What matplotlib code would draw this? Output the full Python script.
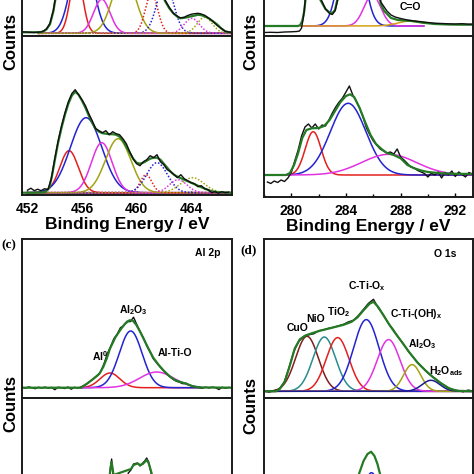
import matplotlib.pyplot as plt
import numpy as np
from matplotlib.ticker import MultipleLocator

plt.rcParams['font.family'] = ['Liberation Sans', 'DejaVu Sans']
plt.rcParams['font.weight'] = 'bold'
plt.rcParams['mathtext.fontset'] = 'custom'
plt.rcParams['mathtext.rm'] = 'Liberation Sans:bold'
plt.rcParams['mathtext.bf'] = 'Liberation Sans:bold'
plt.rcParams['mathtext.it'] = 'Liberation Sans:bold'
plt.rcParams['mathtext.default'] = 'bf'

# ---------------- (a) Ti 2p ----------------
a_top_energy = [451.6, 452.5, 453.0, 453.2, 453.4, 453.65, 453.9, 454.1, 454.5, 455.5,
                457.0, 459.0, 460.5, 461.5, 462.1, 462.4, 462.7, 463.0, 463.2, 463.5,
                463.7, 464.0, 464.2, 464.5, 464.7, 465.0, 465.3, 465.6, 465.9, 466.2,
                466.5, 466.8, 467.0]
a_top_fit = [1, 1, 1.2, 2, 4, 9, 22, 38, 85, 150,
             140, 120, 80, 50, 32, 25, 20, 16.5, 15, 15.5,
             16, 17, 17.5, 18.5, 18.3, 17, 15, 12, 9, 5,
             2, 1, 1]
a_top_raw = [1.5, 0.8, 1.4, 2.5, 4.5, 10, 23, 40, 88, 152,
             142, 122, 82, 52, 33, 26, 20, 17, 15.5, 16,
             17.5, 19, 19.5, 20, 19.5, 18, 15, 12, 8, 5,
             2, 1.2, 1]
a_top_centers = [455.6, 456.0, 457.45, 459.08, 461.1, 462.1, 464.05, 465.0]
a_top_heights = [60, 90, 34, 60, 40, 50, 15, 16]
a_top_sigmas = [0.45, 0.75, 0.6, 0.82, 0.45, 0.6, 0.55, 0.55]

a_bot_raw_energy = np.arange(452.0, 467.0, 0.25)
a_bot_raw = [2.5, 4.5, 2.0, 3.5, 2.0, 4.0, 3.0, 14,
             34, 52, 67, 80, 91, 99, 103, 98,
             93, 87, 79, 72, 64, 62, 60, 62,
             58, 61, 59, 58, 54, 49, 41, 34,
             29, 27, 31, 33, 37, 35, 38, 31,
             28, 23, 21, 18, 15, 18, 14, 12,
             10, 9, 6, 7, 4, 3, 0, 1,
             -0.5, 1, 0, 0.5]
a_bot_fit_energy = [451.6, 452.5, 453.3, 453.6, 453.8, 454.0, 454.25, 454.5, 454.75, 455.0,
                    455.25, 455.5, 455.75, 456.0, 456.25, 456.5, 456.75, 457.0, 457.25, 457.5,
                    457.75, 458.0, 458.25, 458.5, 458.75, 459.0, 459.25, 459.5, 459.75, 460.0,
                    460.25, 460.5, 460.75, 461.0, 461.25, 461.5, 461.75, 462.0, 462.25, 462.5,
                    462.75, 463.0, 463.5, 464.0, 464.5, 465.0, 465.5, 466.0, 467.0]
a_bot_fit = [0, 0, 0.5, 5, 17, 32, 50, 65, 78, 89,
             97, 101, 98, 92, 85, 77, 70, 64, 61, 59.5,
             59, 58.5, 58.5, 58, 56, 52, 46, 40, 34, 30,
             29, 30, 32, 34, 35, 35, 33, 29, 25, 21,
             18, 16, 13, 10, 7, 4, 1.5, 0.5, 0]
a_bot_centers = [455.05, 456.3, 457.45, 458.65, 460.7, 461.5, 463.05, 464.1]
a_bot_heights = [42, 75, 50, 54, 18, 30, 13, 15]
a_bot_sigmas = [0.68, 1.15, 0.76, 0.93, 0.42, 0.76, 0.64, 0.85]
a_bot_bg_energy = [452.0, 467.0]
a_bot_bg = [0, 0]

# ---------------- (b) C 1s ----------------
b_top_raw_energy = [278.0, 278.5, 279.0, 279.5, 280.0, 280.4, 280.6, 280.75, 280.9, 281.05,
                    281.3, 281.7, 282.0, 282.13, 282.5, 282.8, 283.0, 283.2, 283.4, 283.7,
                    284.5, 285.5, 286.3, 286.55, 286.8, 287.0, 287.3, 287.6, 288.0, 288.5,
                    289.0, 289.5, 290.0, 290.5, 291.0, 291.5, 292.0, 292.5, 293.0, 293.4]
b_top_raw = [-6.5, -6.3, -6.5, -6, -5.8, -5.5, -5, -2, 10, 30,
             70, 80, 40, 28, 17, 12.5, 11.5, 15, 26, 60,
             120, 110, 45, 24, 19, 15, 11, 9, 7.5, 6,
             5, 4.3, 3.5, 2.8, 2.5, 2.2, 2, 2.3, 1.8, 2]
b_top_fit_energy = [278.0, 280.5, 280.65, 280.8, 280.95, 281.1, 281.3, 281.7, 282.0, 282.13,
                    282.5, 282.8, 283.0, 283.2, 283.36, 283.7, 284.5, 285.5, 286.3, 286.55,
                    286.8, 287.3, 287.8, 288.3, 288.8, 289.3, 289.8, 290.5, 291.5, 292.5,
                    293.4]
b_top_fit = [0, 0, 1, 5, 15, 35, 60, 75, 38, 26,
             17, 13.5, 13, 16, 26, 58, 118, 108, 42, 22,
             15, 8, 6, 5.5, 5, 4, 3, 2, 1.5, 1.3,
             1.3]
b_top_centers = [284.4, 285.93, 288.7]
b_top_heights = [120, 31, 5]
b_top_sigmas = [0.74, 0.61, 0.9]

b_bot_raw_energy = np.arange(278.25, 293.5, 0.25)
b_bot_raw = [-7, -8.5, -6, -7.5, -5, -6.5, -3, 2.5,
             14, 25, 39, 48, 51, 47, 51, 46,
             50, 49, 55, 62, 68, 73, 77, 83,
             89, 80, 74, 67, 58, 47, 40, 34,
             30, 26, 24, 22, 23, 21, 26, 18,
             15, 11.5, 8, 7, 4.5, 3, 1.5, -2,
             2, 0, 3, -3, 2.5, 0, 4, -1.5,
             3, 0.5, -2, 2.5, 1]
b_bot_fit_energy = [278.0, 279.6, 279.9, 280.2, 280.5, 280.8, 281.1, 281.5, 282.0, 282.4,
                    282.8, 283.2, 283.6, 284.0, 284.3, 284.6, 285.0, 285.4, 285.8, 286.2,
                    286.6, 287.0, 287.5, 288.0, 288.5, 289.0, 289.5, 290.0, 291.0, 292.0,
                    293.4]
b_bot_fit = [0, 0, 2, 10, 22, 37, 45, 46.7, 47, 49,
             55, 64, 73, 79, 80.7, 78, 67, 53, 40, 31,
             26, 22, 20, 16.7, 10, 6.7, 4.5, 3, 1.7, 1.2,
             1]
b_bot_centers = [281.6, 284.16, 287.15]
b_bot_heights = [43.3, 71.7, 20.7]
b_bot_sigmas = [0.58, 1.3, 2.0]

# ---------------- (c) Al 2p ----------------
c_top_raw_energy = np.arange(66.0, 82.0, 0.25)
c_top_raw = [0.5, -0.5, 0.8, 0, -1, 0.5, -0.3, 0.6,
             -0.5, 0.3, -2, 0.5, 0, -0.8, 0.7, -1.5,
             0.4, -0.5, 0.8, 2.5, 4.5, 7, 9.5, 12,
             16, 24, 34, 41, 49, 53.5, 60, 62,
             66.5, 66, 70.5, 63, 56, 50, 42, 36,
             29, 25, 21, 17.5, 14, 11, 8.5, 6.5,
             5.5, 4, 4.5, 2.5, 1.5, 0.5, 0.3, -0.5,
             0.5, -0.3, 0.6, 0, -1.8, 0.4, -0.5, 0.3]
c_top_fit_energy = [66.0, 70.5, 70.9, 71.4, 71.9, 72.2, 72.45, 72.7, 73.1, 73.5,
                    73.85, 74.2, 74.45, 74.7, 75.0, 75.3, 75.6, 76.0, 76.4, 76.8,
                    77.2, 77.6, 78.0, 78.5, 79.0, 79.5, 82.0]
c_top_fit = [0, 0, 3.5, 8.5, 14, 21, 29, 39, 50, 58,
             64, 67.5, 67, 63, 56, 48, 40, 30, 23, 17,
             12, 8, 6, 4, 1.5, 0.3, 0]
c_top_centers = [72.7, 74.28, 76.26]
c_top_heights = [14.7, 56.7, 15.7]
c_top_sigmas = [0.75, 0.87, 1.3]

c_bot_energy = [66, 70, 71, 71.8, 72.3, 72.6, 72.75, 72.83, 72.92, 73.1,
                73.5, 73.9, 74.1, 74.3, 74.5, 74.8, 75.0, 75.2, 75.35, 75.5,
                75.65, 75.85, 76.1, 76.5, 77.2, 78, 79, 82]
c_bot_fit = [0, 0, 3, 15, 40, 62, 78, 84, 76, 58,
             52, 62, 71, 77, 81, 82.5, 81, 82, 84, 86,
             83, 74, 60, 42, 20, 8, 2, 0]
c_bot_raw = [0.5, -0.5, 3.5, 14, 42, 60, 80, 87, 72, 56,
             54, 60, 73, 76, 82, 83, 80, 83, 85, 88,
             84, 72, 61, 40, 21, 7, 2.5, -0.5]

# ---------------- (d) O 1s ----------------
d_top_raw_energy = np.arange(526.5, 537.25, 0.25)
d_top_raw = [0.3, -0.8, 0.5, 2, 8.5, 23, 40, 50,
             55, 56.5, 57.5, 60.5, 61.5, 63, 64, 65.5,
             67, 69.5, 71, 76, 82, 88, 92, 83,
             76.5, 68, 61.5, 54, 47.5, 40, 34, 28,
             23, 18, 14, 10, 6.5, 3.5, 1.5, 0.8,
             -0.5, 1.2, 0.3]
d_top_fit_energy = [526.5, 527.1, 527.3, 527.55, 527.8, 528.05, 528.3, 528.6, 528.9, 529.3,
                    529.7, 530.1, 530.5, 530.9, 531.2, 531.5, 531.8, 532.0, 532.25, 532.5,
                    532.8, 533.1, 533.4, 533.8, 534.2, 534.6, 535.0, 535.4, 535.8, 536.2,
                    537.0]
d_top_fit = [0, 0, 2.5, 10, 26, 43, 52, 56, 58, 60.5,
             62.5, 64.5, 66.5, 69.5, 74, 81, 87.5, 89.5, 84, 76,
             66.5, 58, 50, 39, 29, 21, 14, 8, 3, 0.5,
             0]
d_top_labels = ['CuO', 'NiO', 'TiO$_2$', 'C-Ti-O$_x$', 'C-Ti-(OH)$_x$', 'Al$_2$O$_3$', 'H$_2$O$_{ads}$']
d_top_centers = [528.66, 529.53, 530.2, 531.64, 532.76, 533.94, 534.89]
d_top_heights = [55, 54.3, 53.7, 71.7, 51.7, 26.7, 11]
d_top_sigmas = [0.57, 0.57, 0.57, 0.64, 0.57, 0.43, 0.45]

d_bot_energy = [526.5, 529.5, 530.5, 531.0, 531.27, 531.5, 531.7, 531.88, 532.05, 532.2,
                532.33, 532.6, 533.2, 534.5, 537.0]
d_bot_fit = [0, 2, 15, 50, 76, 89, 96, 98.3, 94, 86,
             76, 55, 20, 3, 0]
d_bot_centers = [531.9]
d_bot_heights = [77.3]
d_bot_sigmas = [0.55]

# ---------------- styling ----------------
RED = '#E32020'
BLUE = '#2323D2'
MAG = '#E232E2'
OLIVE = '#A3A312'
GREEN = '#257A25'
BLACK = '#111111'
DOT = (0, (1, 1.2))
ti_colors = [RED, BLUE, MAG, OLIVE, RED, BLUE, MAG, OLIVE]
ti_styles = ['-', '-', '-', '-', DOT, DOT, DOT, DOT]
o_colors = ['#7E1E1E', '#2A8C8C', RED, BLUE, MAG, OLIVE, '#1B1B8E']
LABEL_SIZE = 7.5

W = H = 474.0


def pbox(x0, y0, x1, y1):
    return [x0 / W, 1 - y1 / H, (x1 - x0) / W, (y1 - y0) / H]


def style_axis(ax, xlim, ylim, labels=False):
    ax.set_xlim(*xlim)
    ax.set_ylim(*ylim)
    ax.set_yticks([])
    for s in ax.spines.values():
        s.set_linewidth(1.4)
        s.set_color('#1a1a1a')
    if labels:
        ax.xaxis.set_major_locator(MultipleLocator(4))
        ax.xaxis.set_minor_locator(MultipleLocator(2))
        ax.tick_params(axis='x', which='major', direction='in', length=3, width=1,
                       labelsize=10, pad=5)
        ax.tick_params(axis='x', which='minor', direction='in', length=2, width=1)
        for t in ax.get_xticklabels():
            t.set_fontweight('bold')
        ax.set_xlabel('Binding Energy / eV', fontsize=12.5, fontweight='bold', labelpad=1)
    else:
        ax.set_xticks([])


def draw_peaks(ax, centers, heights, sigmas, colors, styles, e_lo, e_hi):
    e = np.linspace(e_lo, e_hi, 500)
    for c, h, s, col, ls in zip(centers, heights, sigmas, colors, styles):
        ax.plot(e, h * np.exp(-(e - c) ** 2 / (2 * s ** 2)), color=col, ls=ls, lw=1.1)


fig = plt.figure(figsize=(4.74, 4.74), dpi=100, facecolor='white')

# (a)
ax = fig.add_axes(pbox(22, -123, 232, 36))
draw_peaks(ax, a_top_centers, a_top_heights, a_top_sigmas, ti_colors, ti_styles, 452.8, 467.0)
ax.plot(a_top_energy, a_top_fit, color=GREEN, lw=1.6)
ax.plot(a_top_energy, a_top_raw, color=BLACK, lw=1.0)
style_axis(ax, (451.6, 467.0), (-2.7, 156.3))

ax = fig.add_axes(pbox(22, 36, 232, 195))
ax.plot(a_bot_bg_energy, a_bot_bg, color='#7A3CA8', lw=2.2)
draw_peaks(ax, a_bot_centers, a_bot_heights, a_bot_sigmas, ti_colors, ti_styles, 452.0, 467.0)
ax.plot(a_bot_fit_energy, a_bot_fit, color=GREEN, lw=1.6)
ax.plot(a_bot_raw_energy, a_bot_raw, color=BLACK, lw=1.0)
style_axis(ax, (451.6, 467.0), (-2.3, 156.7), labels=True)

# (b)
ax = fig.add_axes(pbox(264, -122.5, 473, 36.5))
draw_peaks(ax, b_top_centers, b_top_heights, b_top_sigmas, [BLUE, MAG, '#D4A017'],
           ['-', '-', '-'], 280.7, 289.7)
ax.plot(b_top_fit_energy, b_top_fit, color=GREEN, lw=1.6)
ax.plot(b_top_raw_energy, b_top_raw, color=BLACK, lw=1.0)
ax.text(288.71, 18.5, 'C=O', fontsize=LABEL_SIZE, ha='center', va='center')
style_axis(ax, (278.0, 293.3), (-10.5, 148.5))

ax = fig.add_axes(pbox(264, 36.5, 473, 197))
draw_peaks(ax, b_bot_centers, b_bot_heights, b_bot_sigmas, [RED, BLUE, MAG],
           ['-', '-', '-'], 279.7, 293.4)
ax.plot(b_bot_raw_energy, b_bot_raw, color=BLACK, lw=1.0)
ax.plot(b_bot_fit_energy, b_bot_fit, color=GREEN, lw=1.6)
style_axis(ax, (278.0, 293.3), (-22, 138.5), labels=True)

# (c)
ax = fig.add_axes(pbox(22, 239, 232, 398))
draw_peaks(ax, c_top_centers, c_top_heights, c_top_sigmas, [RED, BLUE, MAG],
           ['-', '-', '-'], 70.5, 79.6)
ax.plot(c_top_raw_energy, c_top_raw, color=BLACK, lw=1.0)
ax.plot(c_top_fit_energy, c_top_fit, color=GREEN, lw=1.6)
ax.text(74.46, 77.7, 'Al$_2$O$_3$', fontsize=LABEL_SIZE, ha='center', va='center')
ax.text(71.94, 31.7, 'Al$^0$', fontsize=LABEL_SIZE, ha='center', va='center')
ax.text(77.66, 34.7, 'Al-Ti-O', fontsize=LABEL_SIZE, ha='center', va='center')
ax.text(0.886, 0.912, 'Al 2p', fontsize=LABEL_SIZE, ha='center', va='center',
        transform=ax.transAxes)
style_axis(ax, (66.0, 82.0), (-10.3, 148.7))

ax = fig.add_axes(pbox(22, 398, 232, 557))
ax.plot(c_bot_energy, c_bot_raw, color=BLACK, lw=1.0)
ax.plot(c_bot_energy, c_bot_fit, color=GREEN, lw=1.6)
style_axis(ax, (66.0, 82.0), (-11, 148))

# (d)
ax = fig.add_axes(pbox(264, 239, 473, 398))
draw_peaks(ax, d_top_centers, d_top_heights, d_top_sigmas, o_colors, ['-'] * 7, 526.5, 537.0)
ax.plot(d_top_raw_energy, d_top_raw, color=BLACK, lw=1.0)
ax.plot(d_top_fit_energy, d_top_fit, color=GREEN, lw=1.6)
label_pos = [(528.16, 63.6), (529.08, 72.6), (530.25, 79.3), (531.67, 105.3),
             (534.14, 77.6), (534.47, 47.0), (535.64, 20.3)]
for txt, (lx, ly) in zip(d_top_labels, label_pos):
    ax.text(lx, ly, txt, fontsize=LABEL_SIZE, ha='center', va='center')
ax.text(0.868, 0.906, 'O 1s', fontsize=LABEL_SIZE, ha='center', va='center',
        transform=ax.transAxes)
style_axis(ax, (526.5, 537.0), (-6.7, 152.3))

ax = fig.add_axes(pbox(264, 398, 473, 557))
draw_peaks(ax, d_bot_centers, d_bot_heights, d_bot_sigmas, [BLUE], ['-'], 526.5, 537.0)
ax.plot(d_bot_energy, d_bot_fit, color=GREEN, lw=1.6)
style_axis(ax, (526.5, 537.0), (-7, 152))

# shared text
for x, y in [(11, 41.5), (250.5, 41.5), (11, 403), (250.5, 405)]:
    fig.text(x / W, 1 - y / H, 'Counts', rotation=90, fontsize=12, fontweight='bold',
             ha='center', va='center')
fig.text(8.5 / W, 1 - 245 / H, '(c)', fontsize=9.5, fontweight='bold',
         family='Liberation Serif', ha='center', va='center')
fig.text(249 / W, 1 - 250 / H, '(d)', fontsize=9.5, fontweight='bold',
         family='Liberation Serif', ha='center', va='center')

fig.savefig('out.png', dpi=100, facecolor='white')
